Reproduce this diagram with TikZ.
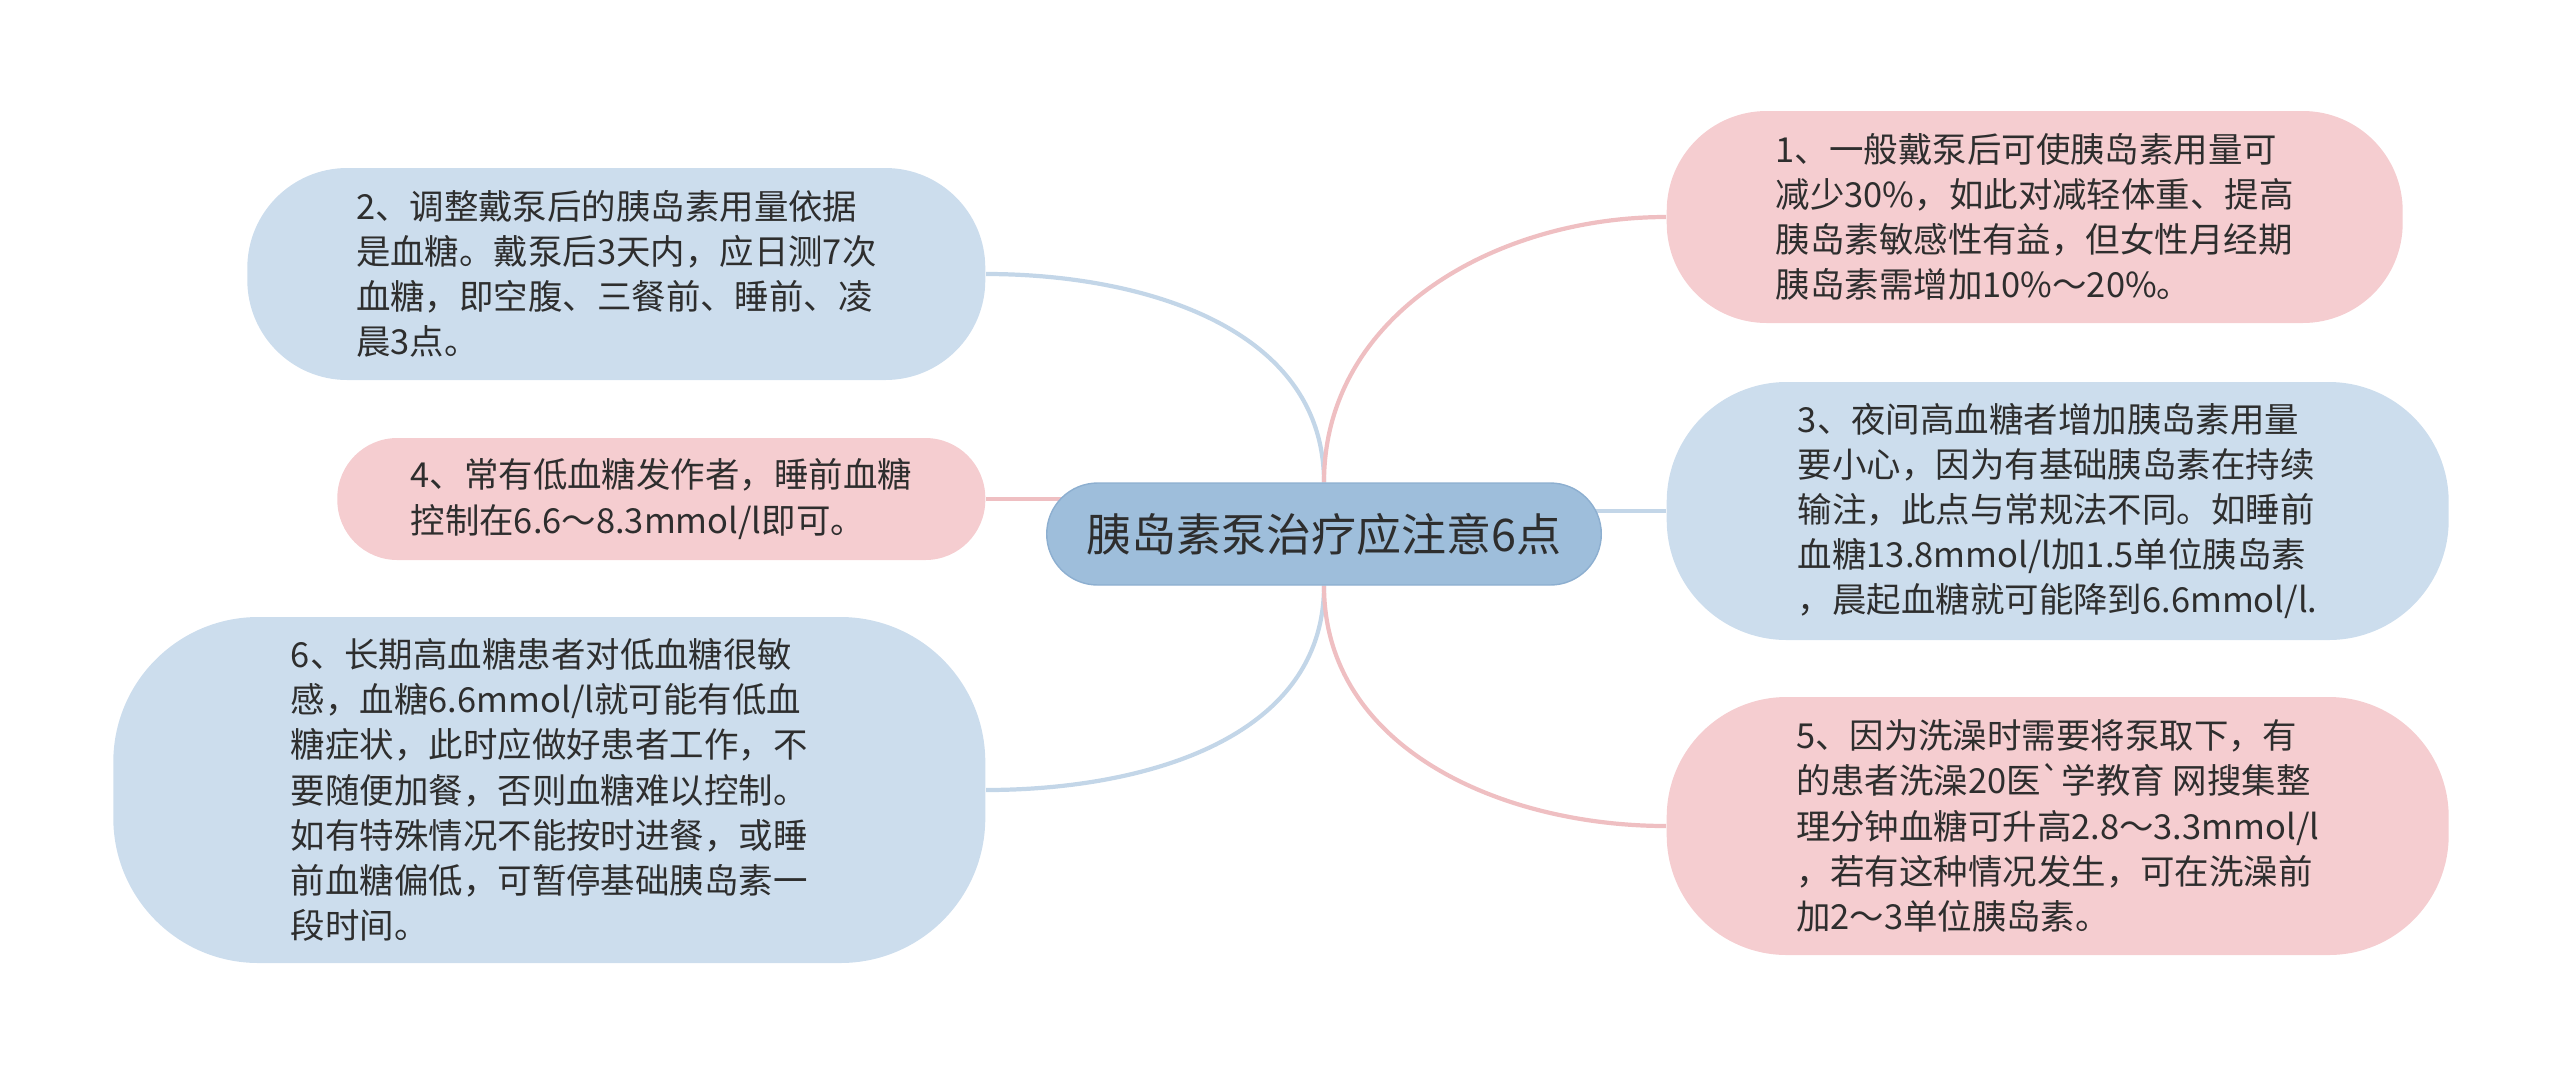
\documentclass[tikz,border=0pt]{standalone}
\usepackage{fontspec}
\setmainfont{Noto Sans CJK SC}[Ligatures=TeXOff]
\usetikzlibrary{positioning,shapes.misc,backgrounds}
\definecolor{PumpInk}{HTML}{2E2E2E}
\definecolor{PumpRoot}{HTML}{9EBEDB}
\definecolor{PumpRootLine}{HTML}{8DAFD0}
\definecolor{PumpBlue}{HTML}{CCDDED}
\definecolor{PumpPink}{HTML}{F5CDD0}
\definecolor{PumpBlueLine}{HTML}{C3D6E8}
\definecolor{PumpPinkLine}{HTML}{EFBFC2}

\begin{document}
\begin{tikzpicture}[
    font=\fontsize{9.8pt}{12.85pt}\selectfont,
    text=PumpInk,
    topic/.style={rectangle,align=left,inner sep=0pt},
    bluebox/.style={topic,fill=PumpBlue},
    pinkbox/.style={topic,fill=PumpPink},
    bline/.style={PumpBlueLine,line width=1.2pt},
    pline/.style={PumpPinkLine,line width=1.2pt}
  ]
  \useasboundingbox (0,0) rectangle (25.6,-10.79);

  \node[rounded rectangle,fill=PumpRoot,draw=PumpRootLine,minimum width=5.78cm,minimum height=1.02cm,font=\fontsize{12.8pt}{15pt}\selectfont] (root) at (13.24,-5.34) {胰岛素泵治疗应注意6点};

  % left side
  \node[bluebox,rounded corners=1cm,anchor=east,minimum width=7.38cm,minimum height=2.12cm] (tip2) at (9.86,-2.74) {2、调整戴泵后的胰岛素用量依据\\是血糖。戴泵后3天内，应日测7次\\血糖，即空腹、三餐前、睡前、凌\\晨3点。};
  \node[pinkbox,rounded corners=0.6cm,anchor=east,minimum width=6.48cm,minimum height=1.22cm] (tip4) at (9.86,-4.99) {4、常有低血糖发作者，睡前血糖\\控制在6.6～8.3mmol/l即可。};
  \node[bluebox,rounded corners=1.45cm,anchor=east,minimum width=8.72cm,minimum height=3.46cm] (tip6) at (9.86,-7.90) {6、长期高血糖患者对低血糖很敏\\感，血糖6.6mmol/l就可能有低血\\糖症状，此时应做好患者工作，不\\要随便加餐，否则血糖难以控制。\\如有特殊情况不能按时进餐，或睡\\前血糖偏低，可暂停基础胰岛素一\\段时间。};

  % right side
  \node[pinkbox,rounded corners=1cm,anchor=west,minimum width=7.36cm,minimum height=2.12cm] (tip1) at (16.66,-2.17) {1、一般戴泵后可使胰岛素用量可\\减少30\%，如此对减轻体重、提高\\胰岛素敏感性有益，但女性月经期\\胰岛素需增加10\%～20\%。};
  \node[bluebox,rounded corners=1.2cm,anchor=west,minimum width=7.82cm,minimum height=2.58cm] (tip3) at (16.66,-5.11) {3、夜间高血糖者增加胰岛素用量\\要小心，因为有基础胰岛素在持续\\输注，此点与常规法不同。如睡前\\血糖13.8mmol/l加1.5单位胰岛素\\，晨起血糖就可能降到6.6mmol/l.};
  \node[pinkbox,rounded corners=1.2cm,anchor=west,minimum width=7.82cm,minimum height=2.58cm] (tip5) at (16.66,-8.26) {5、因为洗澡时需要将泵取下，有\\的患者洗澡20医\symbol{96}学教育 网搜集整\\理分钟血糖可升高2.8～3.3mmol/l\\，若有这种情况发生，可在洗澡前\\加2～3单位胰岛素。};

  \begin{pgfonlayer}{background}
    \draw[bline] (root.north) to[out=90,in=0] (tip2.east);
    \draw[pline] (tip4.east) -- (tip4.east -| root.center);
    \draw[bline] (root.south) to[out=-90,in=0] (tip6.east);
    \draw[pline] (root.north) to[out=90,in=180] (tip1.west);
    \draw[bline] (tip3.west) -- (tip3.west -| root.center);
    \draw[pline] (root.south) to[out=-90,in=180] (tip5.west);
  \end{pgfonlayer}
\end{tikzpicture}
\end{document}
